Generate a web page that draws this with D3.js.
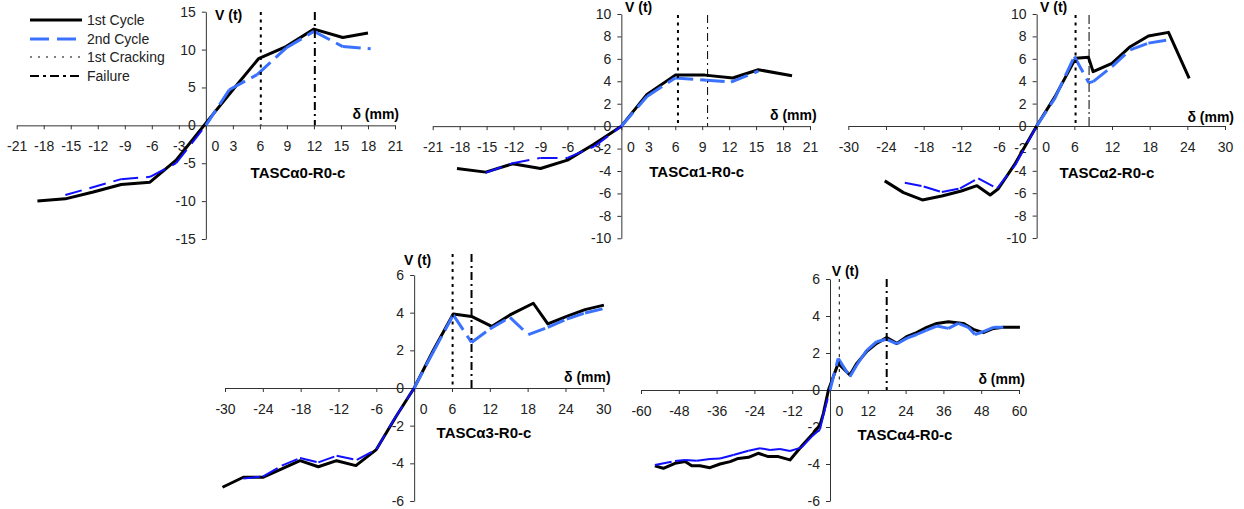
<!DOCTYPE html>
<html>
<head>
<meta charset="utf-8">
<script src="https://cdn.jsdelivr.net/npm/d3@7"></script>
<style>
	body { margin: 0; background: #fff; }
	svg { display: block; font-family: "Liberation Sans", Arial, sans-serif; }
</style>
</head>
<body>
<div id="chart"></div>
<script>
// specimen names
const titles = ["TASCα0-R0-c", "TASCα1-R0-c", "TASCα2-R0-c", "TASCα3-R0-c", "TASCα4-R0-c"];

// displacement (mm) / load (t), 1st and 2nd cycle
const a0_c1_d = [-18.7, -15.6, -12.5, -9.4, -6.2, -3.3, 0, 3.0, 5.85, 8.9, 12.0, 15.2, 18.0];
const a0_c1_v = [-10.0, -9.7, -8.8, -7.8, -7.5, -4.6, 0.3, 4.7, 8.8, 10.4, 12.7, 11.6, 12.2];
const a0_c2_d = [-15.6, -9.4, -6.2, -3.3, 0, 2.6, 5.7, 8.9, 12.0, 15.2, 18.3];
const a0_c2_v = [-9.2, -7.1, -6.8, -5.0, 0, 4.7, 6.7, 10.2, 12.4, 10.4, 10.1];

const a1_c1_d = [-18.3, -15.1, -12.1, -9.0, -6.0, -3.1, 0, 2.85, 6.0, 9.3, 12.4, 15.25, 19.0];
const a1_c1_v = [-3.78, -4.1, -3.36, -3.78, -3.03, -1.64, 0, 2.83, 4.55, 4.55, 4.29, 5.03, 4.5];
const a1_c2_d = [-15.1, -12.1, -9.0, -6.0, -3.0, 0, 2.85, 6.0, 9.5, 12.2, 15.25];
const a1_c2_v = [-4.15, -3.3, -2.83, -2.83, -1.8, 0, 2.65, 4.3, 4.1, 3.93, 4.9];

const a2_c1_d = [-24.2, -21.2, -18.2, -15.1, -12.0, -9.5, -7.4, -6.1, -3.4, 0, 2.9, 6.2, 8.25, 9.0, 12.0, 14.9, 17.8, 21.0, 24.3];
const a2_c1_v = [-4.9, -5.95, -6.6, -6.25, -5.8, -5.33, -6.16, -5.6, -3.33, 0, 2.6, 6.04, 6.13, 4.85, 5.6, 7.08, 8.04, 8.36, 4.26];
const a2_c2_d = [-21.0, -18.0, -15.1, -12.2, -9.3, -6.3, -3.4, 0, 2.9, 6.0, 8.3, 9.0, 12.0, 14.9, 17.8, 21.0];
const a2_c2_v = [-5.06, -5.4, -5.9, -5.57, -4.67, -5.57, -3.48, 0, 2.47, 6.2, 3.87, 3.96, 5.3, 6.8, 7.4, 7.7];

const a3_c1_d = [-30.4, -27.1, -24.0, -21.0, -18.1, -15.2, -12.3, -9.25, -6.0, -2.8, 0, 3.0, 6.2, 9.1, 12.3, 15.2, 18.9, 21.2, 24.2, 27.1, 30.1];
const a3_c1_v = [-5.27, -4.74, -4.74, -4.3, -3.86, -4.18, -3.86, -4.12, -3.27, -1.47, 0, 1.98, 3.93, 3.8, 3.27, 3.88, 4.5, 3.4, 3.8, 4.16, 4.4];
const a3_c2_d = [-27.1, -24.0, -21.0, -18.1, -15.2, -12.3, -9.1, -6.0, -3.3, 0, 3.0, 6.2, 9.1, 12.0, 15.2, 18.1, 21.2, 24.2, 27.1, 30.1];
const a3_c2_v = [-4.8, -4.7, -4.12, -3.72, -3.95, -3.6, -3.82, -3.27, -1.73, 0, 1.9, 3.88, 2.42, 3.13, 3.75, 2.83, 3.22, 3.66, 3.98, 4.22];

const a4_c1_d = [-55.6, -52.9, -49.2, -46, -43.9, -41.3, -38.1, -34.9, -31.7, -29.1, -25.9, -22.8, -19.6, -16.4, -12.7, -8.7, -5.3, -3.2, -2.1, -0.5, 2.6, 6.3, 8.5, 11.6, 14.8, 18, 21.2, 24.3, 27.5, 30.7, 33.9, 37.6, 42.3, 45.5, 48.7, 51.9, 55, 60.3];
const a4_c1_v = [-4.1, -4.23, -3.96, -3.87, -4.1, -4.1, -4.2, -4.0, -3.87, -3.7, -3.64, -3.42, -3.6, -3.6, -3.78, -2.97, -2.34, -1.9, -1.26, 0, 1.44, 0.81, 1.44, 2.07, 2.52, 2.83, 2.52, 2.88, 3.1, 3.39, 3.6, 3.69, 3.6, 3.28, 3.1, 3.33, 3.39, 3.39];
const a4_c2_d = [-55.6, -49.2, -46, -42.3, -38.1, -34.9, -30.7, -25.9, -22.2, -19, -15.9, -12.7, -9.0, -5.8, -3.2, -2.1, 0, 2.6, 6.3, 8.5, 11.6, 14.8, 18, 21.2, 24.3, 27.5, 30.7, 33.9, 37.6, 40.7, 43.9, 46, 48.7, 51.9, 55];
const a4_c2_v = [-4.05, -3.84, -3.78, -3.82, -3.73, -3.7, -3.51, -3.28, -3.15, -3.24, -3.19, -3.3, -3.1, -2.52, -2.13, -1.35, 0, 1.71, 0.72, 1.35, 2.13, 2.61, 2.74, 2.49, 2.79, 3.0, 3.24, 3.46, 3.33, 3.6, 3.39, 3.0, 3.15, 3.39, 3.39];

// 1st cracking / failure displacement
const cracking = [6.1, 6.3, 6.2, 6.1, 2.95];
const failure = [12.1, 9.6, 8.35, 9.1, 18];

// tick labels
const xTicks21 = [-21, -18, -15, -12, -9, -6, -3, 0, 3, 6, 9, 12, 15, 18, 21];
const xTicks30 = [-30, -24, -18, -12, -6, 0, 6, 12, 18, 24, 30];
const xTicks60 = [-60, -48, -36, -24, -12, 0, 12, 24, 36, 48, 60];
const yTicks15 = [-15, -10, -5, 0, 5, 10, 15];
const yTicks10 = [-10, -8, -6, -4, -2, 0, 2, 4, 6, 8, 10];
const yTicks6 = [-6, -4, -2, 0, 2, 4, 6];

const legendLabels = ["1st Cycle", "2nd Cycle", "1st Cracking", "Failure"];

const series = [
	[a0_c1_d, a0_c1_v, a0_c2_d, a0_c2_v],
	[a1_c1_d, a1_c1_v, a1_c2_d, a1_c2_v],
	[a2_c1_d, a2_c1_v, a2_c2_d, a2_c2_v],
	[a3_c1_d, a3_c1_v, a3_c2_d, a3_c2_v],
	[a4_c1_d, a4_c1_v, a4_c2_d, a4_c2_v]
];

// panel placement (pixels)
const layout = [
	{xt: xTicks21, yt: yTicks15, xr: [16.7, 395], yr: [239, 11.7], vTop: 12, vl: [215, 15], dl: [399, 114], tl: [298, 173], crackW: 2, failW: 2, failDash: "8,4,2,4"},
	{xt: xTicks21, yt: yTicks10, xr: [432.7, 810], yr: [238.3, 14], vTop: 15, vl: [625, 7], dl: [816.7, 115.3], tl: [696.7, 172], crackW: 2, failW: 1, failDash: "8,4,2,4"},
	{xt: xTicks30, yt: yTicks10, xr: [848.3, 1225], yr: [238, 14], vTop: 15, vl: [1040, 7], dl: [1234, 116.7], tl: [1107, 173], crackW: 2, failW: 1, failDash: "9,3,2,3"},
	{xt: xTicks30, yt: yTicks6, xr: [225, 603.3], yr: [501, 275], vTop: 254, vl: [404, 260], dl: [610.7, 376.7], tl: [484, 433], crackW: 2, failW: 2, failDash: "8,4,2,4"},
	{xt: xTicks60, yt: yTicks6, xr: [641, 1019], yr: [501, 279], vTop: 279, vl: [831.7, 271], dl: [1025, 379], tl: [905, 435], crackW: 1, failW: 2, failDash: "8,4,2,4"}
];

const width = 1244;
const height = 509;
const svg = d3.select("#chart")
	.append("svg")
	.attr("width", width)
	.attr("height", height);

const posBlue = "#3a72ff";
const negBlue = "#1010ff";

layout.forEach(function(L, i) {
	const [d1, v1, d2, v2] = series[i];
	const xscale = d3.scaleLinear()
		.domain([L.xt[0], L.xt[L.xt.length - 1]])
		.range(L.xr);
	const yscale = d3.scaleLinear()
		.domain([L.yt[0], L.yt[L.yt.length - 1]])
		.range(L.yr);
	const g = svg.append("g");

	const x_axis = d3.axisBottom(xscale)
		.tickValues(L.xt)
		.tickSize(4)
		.tickSizeOuter(0)
		.tickFormat(x => x);
	const y_axis = d3.axisLeft(yscale)
		.tickValues(L.yt)
		.tickSize(4)
		.tickSizeOuter(0)
		.tickPadding(6)
		.tickFormat(x => x);

	const gx = g.append("g")
		.attr("transform", "translate(0," + yscale(0) + ")")
		.call(x_axis);
	gx.selectAll("text")
		.attr("y", 21)
		.attr("dy", "0.35em")
		.attr("dx", d => d === 0 ? 9 : 0);
	const gy = g.append("g")
		.attr("transform", "translate(" + xscale(0) + ",0)")
		.call(y_axis);
	[gx, gy].forEach(function(a) {
		a.selectAll("text").attr("font-size", 14).attr("fill", "#222").attr("font-family", null);
		a.selectAll("line").attr("stroke", "#333");
		a.select(".domain").attr("stroke", "#333");
	});

	// 1st cycle
	const line = d3.line().x(p => xscale(p[0])).y(p => yscale(p[1]));
	g.append("path")
		.attr("d", line(d1.map((d, k) => [d, v1[k]])))
		.attr("fill", "none")
		.attr("stroke", "#000")
		.attr("stroke-width", 3)
		.attr("stroke-linejoin", "round");

	// 2nd cycle, dash restarts on every segment
	for (let k = 0; k < d2.length - 1; k++) {
		const neg = d2[k + 1] <= 0;
		g.append("path")
			.attr("d", line([[d2[k], v2[k]], [d2[k + 1], v2[k + 1]]]))
			.attr("fill", "none")
			.attr("stroke", neg ? negBlue : posBlue)
			.attr("stroke-width", neg ? 2 : 3)
			.attr("stroke-dasharray", neg ? "17,8" : "18,7");
	}

	// 1st cracking + failure markers
	g.append("line")
		.attr("x1", xscale(cracking[i])).attr("x2", xscale(cracking[i]))
		.attr("y1", L.vTop).attr("y2", yscale(0))
		.attr("stroke", "#000")
		.attr("stroke-width", L.crackW)
		.attr("stroke-dasharray", "3,4.5");
	g.append("line")
		.attr("x1", xscale(failure[i])).attr("x2", xscale(failure[i]))
		.attr("y1", L.vTop).attr("y2", yscale(0))
		.attr("stroke", "#000")
		.attr("stroke-width", L.failW)
		.attr("stroke-dasharray", L.failDash);

	g.append("text")
		.attr("x", L.vl[0]).attr("y", L.vl[1])
		.attr("dy", "0.35em")
		.attr("font-size", 14).attr("font-weight", "bold")
		.text("V (t)");
	g.append("text")
		.attr("x", L.dl[0]).attr("y", L.dl[1])
		.attr("dy", "0.35em")
		.attr("text-anchor", "end")
		.attr("font-size", 14).attr("font-weight", "bold")
		.text("δ (mm)");
	g.append("text")
		.attr("x", L.tl[0]).attr("y", L.tl[1])
		.attr("dy", "0.35em")
		.attr("text-anchor", "middle")
		.attr("font-size", 15).attr("font-weight", "bold")
		.text(titles[i]);
});

// legend
const legendY = [20, 39, 57, 76];
const lg = svg.append("g");
legendLabels.forEach(function(lab, k) {
	const ln = lg.append("line")
		.attr("x1", 30).attr("x2", 82)
		.attr("y1", legendY[k]).attr("y2", legendY[k]);
	if (k === 0) ln.attr("stroke", "#000").attr("stroke-width", 3);
	if (k === 1) ln.attr("stroke", posBlue).attr("stroke-width", 3).attr("stroke-dasharray", "19,8");
	if (k === 2) ln.attr("stroke", "#000").attr("stroke-width", 1).attr("stroke-dasharray", "2,6");
	if (k === 3) ln.attr("stroke", "#000").attr("stroke-width", 2).attr("stroke-dasharray", "9,4,3,4");
	lg.append("text")
		.attr("x", 87).attr("y", legendY[k])
		.attr("dy", "0.35em")
		.attr("font-size", 14)
		.attr("fill", "#222")
		.text(lab);
});
</script>
</body>
</html>
